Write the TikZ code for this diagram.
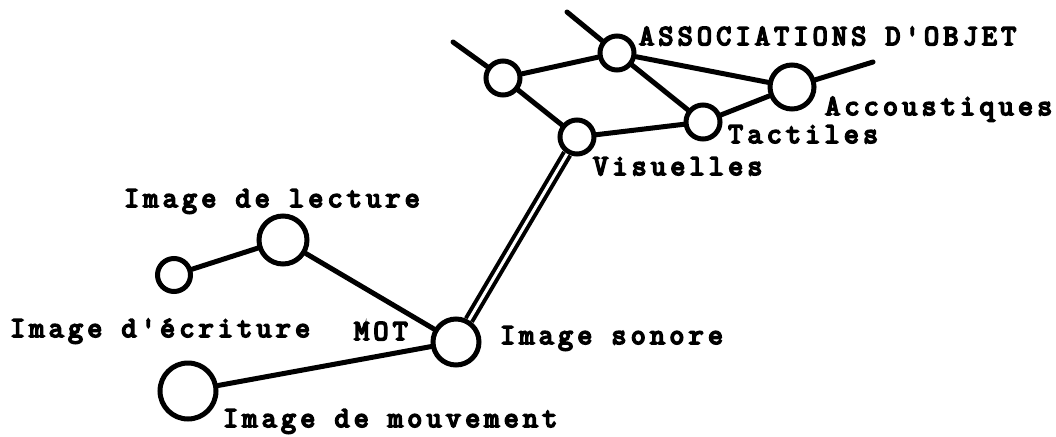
\documentclass[tikz,border=0pt]{standalone}
\usepackage{fontspec}
\newfontfamily\labfont{Latin Modern Mono}[FakeBold=6,LetterSpace=15]
\begin{document}
\begin{tikzpicture}[x=1pt,y=-1pt,
  ring/.style={draw=black,circle,line width=5pt,inner sep=0pt,minimum size=#1},
  link/.style={line width=5pt,line cap=round},
  dlink/.style={line width=4pt,double=white,double distance=3pt},
  lab/.style={anchor=base west,inner sep=0pt,font=\labfont\fontsize{29}{32}\selectfont}]
\useasboundingbox (0,0) rectangle (1056,436);
% nodes
\node[ring=34pt] (L1) at (503,78) {};
\node[ring=34pt] (A) at (617,53) {};
\node[ring=34pt] (V) at (577,137) {};
\node[ring=34pt] (T) at (703,122) {};
\node[ring=44pt] (Ac) at (792,87) {};
\node[ring=48pt] (Le) at (283,240) {};
\node[ring=33pt] (E) at (174,275) {};
\node[ring=56pt] (M) at (188,391) {};
\node[ring=46pt] (S) at (456,342) {};
\coordinate (f1) at (453,42);
\coordinate (f2) at (567,12);
\coordinate (f3) at (873,62);
% connectors
\draw[link] (L1) -- (f1);
\draw[link] (A) -- (f2);
\draw[link] (Ac) -- (f3);
\draw[link] (L1) -- (A);
\draw[link] (L1) -- (V);
\draw[link] (A) -- (T);
\draw[link] (A) -- (Ac);
\draw[link] (V) -- (T);
\draw[link] (T) -- (Ac);
\draw[dlink] (S) -- (V);
\draw[link] (E) -- (Le);
\draw[link] (Le) -- (S);
\draw[link] (M) -- (S);
% labels
\node[lab] (tA) at (639,45) {ASSOCIATIONS D'OBJET};
\node[lab] (tAc) at (825,115) {Accoustiques};
\node[lab] (tT) at (728,143) {Tactiles};
\node[lab] (tV) at (593,175) {Visuelles};
\node[lab] (tLe) at (124,207) {Image de lecture};
\node[lab] (tE) at (10,337) {Image d'écriture};
\node[lab] (tMot) at (354,340) {MOT};
\node[lab] (tS) at (500,344) {Image sonore};
\node[lab] (tM) at (223,427) {Image de mouvement};
\end{tikzpicture}
\end{document}
